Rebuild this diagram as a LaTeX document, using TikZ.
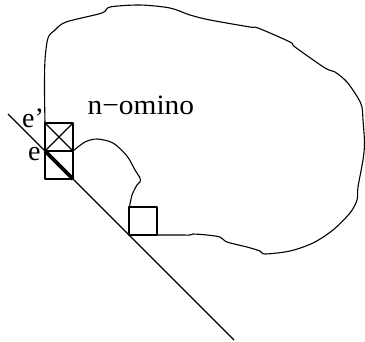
\documentclass[tikz,border=0pt]{standalone}
\usepackage{fontspec}
\setmainfont{Liberation Serif}
\begin{document}
\begin{tikzpicture}[x=1pt,y=-1pt,line join=round,
  cell/.style={draw,line width=1.1pt,minimum size=28pt,inner sep=0pt,outer sep=0pt},
  thin/.style={line width=1.1pt},
  lab/.style={inner sep=0pt,anchor=base west,font=\fontsize{28}{30}\selectfont}]
\useasboundingbox (0,0) rectangle (365,341);
% outline of the n-omino
\draw[thin] plot[smooth,tension=0.5] coordinates{
 (45,123) (44.5,90) (45,60) (48,38) (55,30) (66,22) (102,13) (110,7) (140,5) (170,8)
 (190,15) (210,20) (250,27) (258,28) (290,42) (295,47) (325,68) (335,72) (347,82)
 (358,98) (362,107) (363,120) (364.5,143) (363,160) (358,187) (357,200) (350,213)
 (333,230) (313,243) (290,251) (265,254) (260,251) (247,247) (227,242) (220,237)
 (207,235) (193,234) (190,235) (180,235) (157,235)};
\draw[thin] plot[smooth,tension=0.5] coordinates{
 (73,151) (85,142) (97,139) (113,143) (127,156) (135,170) (140,178) (140,182)
 (137,185) (132,195) (129.5,207)};
% cells
\node[cell] (c1) at (59,137) {};
\node[cell] (c2) at (59,165) {};
\node[cell] (c3) at (143,221) {};
\draw[thin] (c1.north west) -- (c1.south east) (c1.north east) -- (c1.south west);
% diagonal line
\coordinate (l1) at (8,114);
\coordinate (l2) at (234,340);
\draw[thin] (l1) -- (l2);
\draw[line width=3.6pt] (c2.north west) -- (c2.south east);
% labels
\node[lab] (t) at (87.5,114) {\scalebox{1.05}[1]{n−omino}};
\node[lab] (ep) at (22,127) {e’};
\node[lab] (e) at (28,160) {e};
\end{tikzpicture}
\end{document}
